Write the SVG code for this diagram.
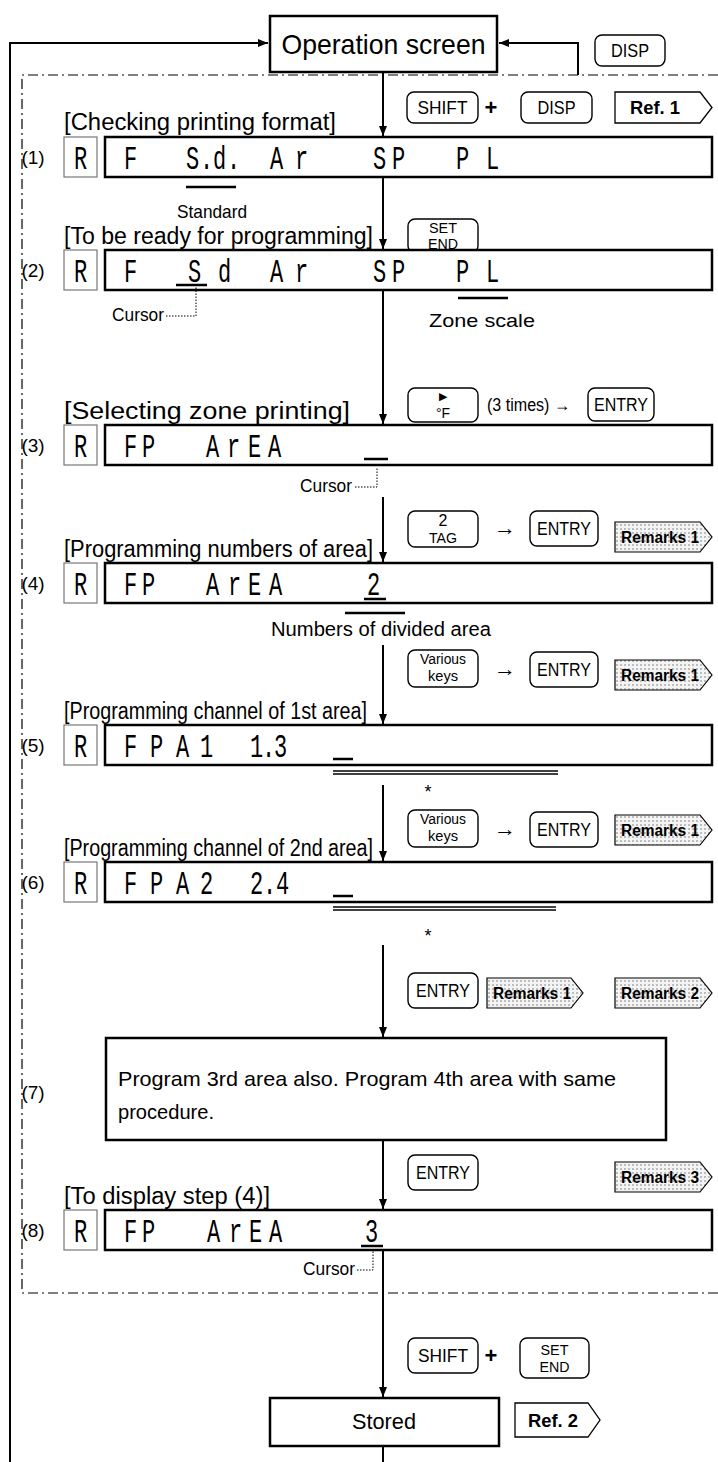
<svg xmlns="http://www.w3.org/2000/svg" width="718" height="1462" viewBox="0 0 718 1462">
<defs>
<marker id="ah" viewBox="0 0 10 10" refX="10" refY="5" markerWidth="10" markerHeight="10" markerUnits="userSpaceOnUse" orient="auto"><path d="M0,1 L10,5 L0,9 z" fill="#000"/></marker>
<pattern id="dots" width="4" height="4" patternUnits="userSpaceOnUse"><rect width="4" height="4" fill="#f4f4f4"/><circle cx="1" cy="1" r="0.8" fill="#777"/></pattern>
<style>
.t{font-family:"Liberation Sans Narrow","Liberation Sans",Arial,sans-serif;fill:#000}
.lbl{font-size:23px}
.key{fill:#fff;stroke:#000;stroke-width:1.4}
.kt{font-size:18px;text-anchor:middle}
.k2{font-size:14px;text-anchor:middle}
.disp{fill:#fff;stroke:#000;stroke-width:2.5}
.rbox{fill:#fff;stroke:#777;stroke-width:1.2}
.seg{font-family:"Liberation Mono","DejaVu Sans Mono",monospace;font-size:22px;fill:#000}
.num{font-size:19px;text-anchor:middle}
.flow{stroke:#000;stroke-width:2;fill:none}
.rem{fill:url(#dots);stroke:#000;stroke-width:1.2}
.remt{font-size:16px;font-weight:bold;text-anchor:middle}
.ref{fill:#fff;stroke:#000;stroke-width:1.3}
.reft{font-size:18px;font-weight:bold;text-anchor:middle}
.ul{stroke:#000;stroke-width:2.5}
.lead{stroke:#000;stroke-width:1;stroke-dasharray:1.5 1.5;fill:none}
.arr{font-size:22px;text-anchor:middle}
.frame{fill:none;stroke:#000;stroke-width:1.2;stroke-dasharray:10 4 2 4}
</style>
</defs>
<rect width="718" height="1462" fill="#fff"/>
<path class="frame" d="M718,75 H22 V1293 H718"/>

<g id="connectors">
<path class="flow" d="M10,1462 V43 H268" marker-end="url(#ah)"/>
<path class="flow" d="M578,75 V43 H499" marker-end="url(#ah)"/>
<path class="flow" d="M383,72 V136" marker-end="url(#ah)"/>
<path class="flow" d="M383,177 V249" marker-end="url(#ah)"/>
<path class="flow" d="M383,290 V424" marker-end="url(#ah)"/>
<path class="flow" d="M383,497 V562" marker-end="url(#ah)"/>
<path class="flow" d="M383,645 V724" marker-end="url(#ah)"/>
<path class="flow" d="M383,785 V861" marker-end="url(#ah)"/>
<path class="flow" d="M383,945 V1037" marker-end="url(#ah)"/>
<path class="flow" d="M383,1140 V1209" marker-end="url(#ah)"/>
<path class="flow" d="M383,1250 V1397" marker-end="url(#ah)"/>
<path class="flow" d="M383,1446 V1462"/>
</g>

<g id="operation-screen">
<rect x="270" y="16" width="227" height="56" fill="#fff" stroke="#000" stroke-width="2.5"/>
<text class="t" x="383.5" y="54" font-size="28" text-anchor="middle" textLength="204" lengthAdjust="spacingAndGlyphs">Operation screen</text>
</g>
<g id="key-disp-top">
<rect class="key" x="595" y="35" width="70" height="31" rx="7"/>
<text class="t kt" x="630" y="57" textLength="38" lengthAdjust="spacingAndGlyphs">DISP</text>
</g>

<g id="step1">
<text class="t lbl" x="64" y="130" textLength="272" lengthAdjust="spacingAndGlyphs">[Checking printing format]</text>
<rect class="key" x="407" y="92" width="71" height="31" rx="7"/>
<text class="t kt" x="442.5" y="114" textLength="50" lengthAdjust="spacingAndGlyphs">SHIFT</text>
<text class="t" x="491" y="115" font-size="22" font-weight="bold" text-anchor="middle">+</text>
<rect class="key" x="521" y="92" width="71" height="31" rx="7"/>
<text class="t kt" x="556.5" y="114" textLength="38" lengthAdjust="spacingAndGlyphs">DISP</text>
<polygon class="ref" points="615,92 700,92 712,107.5 700,123 615,123"/>
<text class="t reft" x="655" y="114" textLength="50" lengthAdjust="spacingAndGlyphs">Ref. 1</text>
<text class="t num" x="33" y="164">(1)</text>
<rect class="rbox" x="64" y="137" width="33" height="40"/>
<text class="seg" transform="translate(0,169) scale(1,1.55)"><tspan x="74">R</tspan></text>
<rect class="disp" x="105" y="137" width="607" height="40"/>
<text class="seg" transform="translate(0,169) scale(1,1.55)"><tspan x="124">F</tspan> <tspan x="186 200 213 227">S.d.</tspan> <tspan x="270 295">Ar</tspan> <tspan x="373 392">SP</tspan> <tspan x="456 486">PL</tspan></text>
<line class="ul" x1="186" y1="187" x2="236" y2="187"/>
<text class="t" x="212" y="218" font-size="19" text-anchor="middle" textLength="70" lengthAdjust="spacingAndGlyphs">Standard</text>
</g>

<g id="key-setend-1">
<rect class="key" x="408" y="219" width="70" height="34" rx="7"/>
<text class="t k2" x="443" y="233" textLength="28" lengthAdjust="spacingAndGlyphs">SET</text>
<text class="t k2" x="443" y="249" textLength="30" lengthAdjust="spacingAndGlyphs">END</text>
</g>

<g id="step2">
<text class="t lbl" x="64" y="244" textLength="309" lengthAdjust="spacingAndGlyphs">[To be ready for programming]</text>
<text class="t num" x="33" y="277">(2)</text>
<rect class="rbox" x="64" y="250" width="33" height="40"/>
<text class="seg" transform="translate(0,282) scale(1,1.55)"><tspan x="74">R</tspan></text>
<rect class="disp" x="105" y="250" width="607" height="40"/>
<text class="seg" transform="translate(0,282) scale(1,1.55)"><tspan x="124">F</tspan> <tspan x="188 218">Sd</tspan> <tspan x="270 295">Ar</tspan> <tspan x="373 392">SP</tspan> <tspan x="456 486">PL</tspan></text>
<line class="ul" x1="176" y1="285" x2="207" y2="285"/>
<text class="t" x="112" y="321" font-size="19" textLength="52" lengthAdjust="spacingAndGlyphs">Cursor</text>
<path class="lead" d="M166,316 H196 V287"/>
<line class="ul" x1="458" y1="298" x2="508" y2="298"/>
<text class="t" x="482" y="327" font-size="19" text-anchor="middle" textLength="106" lengthAdjust="spacingAndGlyphs">Zone scale</text>
</g>

<g id="keys-3">
<rect class="key" x="408" y="388" width="70" height="34" rx="7"/>
<text class="t" x="443" y="400" font-size="11" text-anchor="middle">▶</text>
<text class="t k2" x="443" y="418">°F</text>
<text class="t" x="487" y="411" font-size="18" textLength="83" lengthAdjust="spacingAndGlyphs">(3 times) →</text>
<rect class="key" x="588" y="388" width="66" height="33" rx="7"/>
<text class="t kt" x="621" y="411" textLength="54" lengthAdjust="spacingAndGlyphs">ENTRY</text>
</g>

<g id="step3">
<text class="t lbl" x="64" y="419" textLength="286" lengthAdjust="spacingAndGlyphs">[Selecting zone printing]</text>
<text class="t num" x="33" y="452">(3)</text>
<rect class="rbox" x="64" y="425" width="33" height="40"/>
<text class="seg" transform="translate(0,457) scale(1,1.55)"><tspan x="74">R</tspan></text>
<rect class="disp" x="105" y="425" width="607" height="40"/>
<text class="seg" transform="translate(0,457) scale(1,1.55)"><tspan x="124 142">FP</tspan> <tspan x="206 227 248 268">ArEA</tspan></text>
<line class="ul" x1="364" y1="459" x2="388" y2="459"/>
<text class="t" x="352" y="492" font-size="19" text-anchor="end" textLength="52" lengthAdjust="spacingAndGlyphs">Cursor</text>
<path class="lead" d="M355,487 H377 V467"/>
</g>

<g id="keys-4">
<rect class="key" x="408" y="511" width="70" height="36" rx="7"/>
<text class="t" x="443" y="526" font-size="16" text-anchor="middle">2</text>
<text class="t k2" x="443" y="543" textLength="28" lengthAdjust="spacingAndGlyphs">TAG</text>
<text class="t arr" x="505" y="535">→</text>
<rect class="key" x="530" y="511" width="68" height="35" rx="7"/>
<text class="t kt" x="564" y="535" textLength="54" lengthAdjust="spacingAndGlyphs">ENTRY</text>
<polygon class="rem" points="615,522 700,522 712,537 700,552 615,552"/>
<text class="t remt" x="660" y="543" textLength="78" lengthAdjust="spacingAndGlyphs">Remarks 1</text>
</g>

<g id="step4">
<text class="t lbl" x="64" y="557" textLength="309" lengthAdjust="spacingAndGlyphs">[Programming numbers of area]</text>
<text class="t num" x="33" y="590">(4)</text>
<rect class="rbox" x="64" y="563" width="33" height="40"/>
<text class="seg" transform="translate(0,595) scale(1,1.55)"><tspan x="74">R</tspan></text>
<rect class="disp" x="105" y="563" width="607" height="40"/>
<text class="seg" transform="translate(0,595) scale(1,1.55)"><tspan x="124 142">FP</tspan> <tspan x="206 228 248 269">ArEA</tspan> <tspan x="367">2</tspan></text>
<line class="ul" x1="364" y1="599" x2="386" y2="599"/>
<line class="ul" x1="345" y1="613" x2="405" y2="613"/>
<text class="t" x="381" y="636" font-size="20" text-anchor="middle" textLength="220" lengthAdjust="spacingAndGlyphs">Numbers of divided area</text>
</g>

<g id="keys-5">
<rect class="key" x="408" y="650" width="70" height="37" rx="7"/>
<text class="t k2" x="443" y="664" textLength="46" lengthAdjust="spacingAndGlyphs">Various</text>
<text class="t k2" x="443" y="681" textLength="30" lengthAdjust="spacingAndGlyphs">keys</text>
<text class="t arr" x="505" y="676">→</text>
<rect class="key" x="530" y="652" width="68" height="35" rx="7"/>
<text class="t kt" x="564" y="676" textLength="54" lengthAdjust="spacingAndGlyphs">ENTRY</text>
<polygon class="rem" points="615,660 700,660 712,675 700,690 615,690"/>
<text class="t remt" x="660" y="681" textLength="78" lengthAdjust="spacingAndGlyphs">Remarks 1</text>
</g>

<g id="step5">
<text class="t lbl" x="64" y="719" textLength="303" lengthAdjust="spacingAndGlyphs">[Programming channel of 1st area]</text>
<text class="t num" x="33" y="752">(5)</text>
<rect class="rbox" x="64" y="725" width="33" height="40"/>
<text class="seg" transform="translate(0,757) scale(1,1.55)"><tspan x="74">R</tspan></text>
<rect class="disp" x="105" y="725" width="607" height="40"/>
<text class="seg" transform="translate(0,757) scale(1,1.55)"><tspan x="124 150 176 200">FPA1</tspan> <tspan x="250 262 274">1.3</tspan></text>
<line class="ul" x1="333" y1="759" x2="353" y2="759"/>
<line x1="333" y1="771" x2="558" y2="771" stroke="#000" stroke-width="1.3"/>
<line x1="333" y1="774" x2="558" y2="774" stroke="#000" stroke-width="1.3"/>
<text class="t" x="428" y="798" font-size="18" text-anchor="middle">*</text>
</g>

<g id="keys-6">
<rect class="key" x="408" y="810" width="70" height="37" rx="7"/>
<text class="t k2" x="443" y="824" textLength="46" lengthAdjust="spacingAndGlyphs">Various</text>
<text class="t k2" x="443" y="841" textLength="30" lengthAdjust="spacingAndGlyphs">keys</text>
<text class="t arr" x="505" y="836">→</text>
<rect class="key" x="530" y="812" width="68" height="35" rx="7"/>
<text class="t kt" x="564" y="836" textLength="54" lengthAdjust="spacingAndGlyphs">ENTRY</text>
<polygon class="rem" points="615,815 700,815 712,830 700,845 615,845"/>
<text class="t remt" x="660" y="836" textLength="78" lengthAdjust="spacingAndGlyphs">Remarks 1</text>
</g>

<g id="step6">
<text class="t lbl" x="64" y="856" textLength="309" lengthAdjust="spacingAndGlyphs">[Programming channel of 2nd area]</text>
<text class="t num" x="33" y="889">(6)</text>
<rect class="rbox" x="64" y="862" width="33" height="40"/>
<text class="seg" transform="translate(0,894) scale(1,1.55)"><tspan x="74">R</tspan></text>
<rect class="disp" x="105" y="862" width="607" height="40"/>
<text class="seg" transform="translate(0,894) scale(1,1.55)"><tspan x="124 150 176 200">FPA2</tspan> <tspan x="250 263 276">2.4</tspan></text>
<line class="ul" x1="333" y1="896" x2="353" y2="896"/>
<line x1="333" y1="907" x2="556" y2="907" stroke="#000" stroke-width="1.3"/>
<line x1="333" y1="910" x2="556" y2="910" stroke="#000" stroke-width="1.3"/>
<text class="t" x="428" y="942" font-size="18" text-anchor="middle">*</text>
</g>

<g id="keys-7">
<rect class="key" x="408" y="973" width="70" height="35" rx="7"/>
<text class="t kt" x="443" y="997" textLength="54" lengthAdjust="spacingAndGlyphs">ENTRY</text>
<polygon class="rem" points="487,978 571,978 583,993 571,1008 487,1008"/>
<text class="t remt" x="532" y="999" textLength="78" lengthAdjust="spacingAndGlyphs">Remarks 1</text>
<polygon class="rem" points="615,978 700,978 712,993 700,1008 615,1008"/>
<text class="t remt" x="660" y="999" textLength="78" lengthAdjust="spacingAndGlyphs">Remarks 2</text>
</g>

<g id="step7">
<text class="t num" x="33" y="1099">(7)</text>
<rect x="106" y="1038" width="560" height="102" fill="#fff" stroke="#000" stroke-width="2.5"/>
<text class="t" x="118" y="1086" font-size="21" textLength="498" lengthAdjust="spacingAndGlyphs">Program 3rd area also. Program 4th area with same</text>
<text class="t" x="118" y="1119" font-size="21" textLength="96" lengthAdjust="spacingAndGlyphs">procedure.</text>
</g>

<g id="keys-8">
<rect class="key" x="408" y="1155" width="70" height="35" rx="7"/>
<text class="t kt" x="443" y="1179" textLength="54" lengthAdjust="spacingAndGlyphs">ENTRY</text>
<polygon class="rem" points="615,1162 700,1162 712,1177 700,1192 615,1192"/>
<text class="t remt" x="660" y="1183" textLength="78" lengthAdjust="spacingAndGlyphs">Remarks 3</text>
</g>

<g id="step8">
<text class="t lbl" x="64" y="1204" textLength="206" lengthAdjust="spacingAndGlyphs">[To display step (4)]</text>
<text class="t num" x="33" y="1237">(8)</text>
<rect class="rbox" x="64" y="1210" width="33" height="40"/>
<text class="seg" transform="translate(0,1242) scale(1,1.55)"><tspan x="74">R</tspan></text>
<rect class="disp" x="105" y="1210" width="607" height="40"/>
<text class="seg" transform="translate(0,1242) scale(1,1.55)"><tspan x="124 142">FP</tspan> <tspan x="207 229 249 269">ArEA</tspan> <tspan x="365">3</tspan></text>
<line class="ul" x1="361" y1="1246" x2="383" y2="1246"/>
<text class="t" x="355" y="1275" font-size="19" text-anchor="end" textLength="52" lengthAdjust="spacingAndGlyphs">Cursor</text>
<path class="lead" d="M357,1270 H373 V1250"/>
</g>

<g id="keys-store">
<rect class="key" x="408" y="1338" width="70" height="35" rx="7"/>
<text class="t kt" x="443" y="1362" textLength="50" lengthAdjust="spacingAndGlyphs">SHIFT</text>
<text class="t" x="491" y="1363" font-size="22" font-weight="bold" text-anchor="middle">+</text>
<rect class="key" x="520" y="1338" width="69" height="40" rx="7"/>
<text class="t k2" x="554.5" y="1355" textLength="28" lengthAdjust="spacingAndGlyphs">SET</text>
<text class="t k2" x="554.5" y="1372" textLength="30" lengthAdjust="spacingAndGlyphs">END</text>
</g>

<g id="stored">
<rect x="270" y="1398" width="229" height="48" fill="#fff" stroke="#000" stroke-width="2.5"/>
<text class="t" x="384" y="1429" font-size="22" text-anchor="middle" textLength="64" lengthAdjust="spacingAndGlyphs">Stored</text>
</g>
<g id="ref2">
<polygon class="ref" points="515,1403 588,1403 600,1420 588,1437 515,1437"/>
<text class="t reft" x="553" y="1427" textLength="50" lengthAdjust="spacingAndGlyphs">Ref. 2</text>
</g>
</svg>
